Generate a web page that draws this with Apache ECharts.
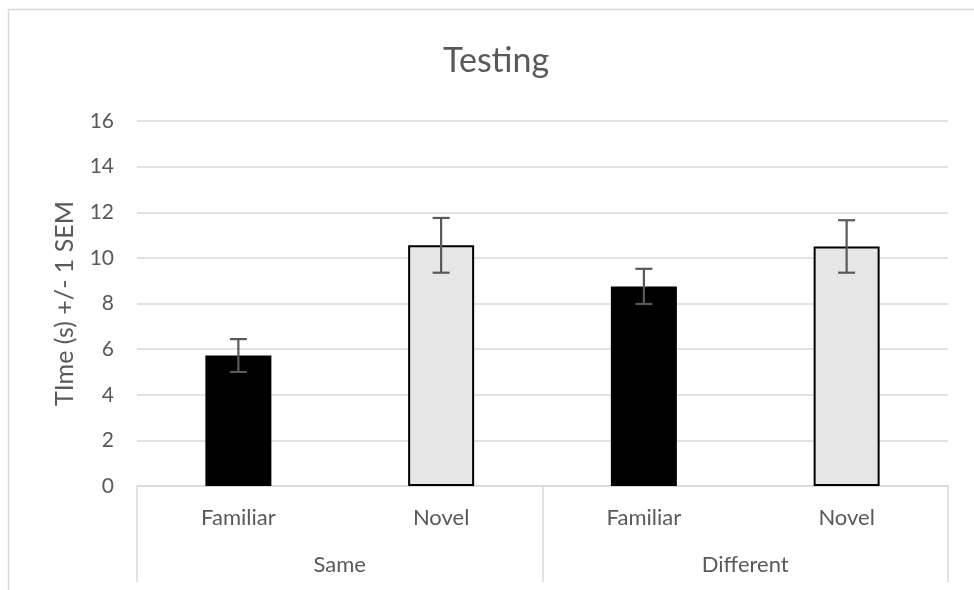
<!DOCTYPE html>
<html>
<head>
<meta charset="utf-8">
<script src="https://cdn.jsdelivr.net/npm/echarts@6/dist/echarts.min.js"></script>
<style>html,body{margin:0;padding:0;background:#fff}#c{width:974px;height:590px}</style>
</head>
<body>
<div id="c"></div>
<script>
const conditions = ['Familiar', 'Novel', 'Familiar', 'Novel'];
const groups = ['Same', 'Different'];
const means = [5.72, 10.55, 8.75, 10.5];
const sems = [0.72, 1.2, 0.77, 1.15];
const yTicks = { min: 0, max: 16, interval: 2 };

const fills = { Familiar: '#000000', Novel: '#e6e6e6' };
const FONT = 'Lato, "Open Sans", sans-serif';
const TXT = '#595959';

const chart = echarts.init(document.getElementById('c'), null, { renderer: 'canvas' });
chart.setOption({
  animation: false,
  textStyle: { fontFamily: FONT },
  title: {
    text: 'Testing', left: 438, top: 39,
    textStyle: { fontFamily: FONT, fontSize: 34, fontWeight: 'normal', color: TXT }
  },
  graphic: [{
    type: 'rect', shape: { x: 8.5, y: 9.5, width: 1000, height: 700 },
    style: { fill: 'none', stroke: '#d9d9d9', lineWidth: 1.5 }, z: -10
  }],
  grid: { left: 137, right: 26, top: 121, bottom: 104 },
  xAxis: [{
    type: 'category', data: conditions, position: 'bottom',
    axisLine: { show: true, lineStyle: { color: '#d9d9d9', width: 1.5 } },
    axisTick: { show: false },
    axisLabel: { color: TXT, fontSize: 22, margin: 21, fontFamily: FONT }
  }, {
    type: 'category', data: groups, position: 'bottom',
    axisLine: { show: false },
    axisTick: { show: true, length: 96, lineStyle: { color: '#d9d9d9', width: 1.5 } },
    axisLabel: { color: TXT, fontSize: 22, margin: 68, fontFamily: FONT }
  }],
  yAxis: {
    type: 'value', min: yTicks.min, max: yTicks.max, interval: yTicks.interval,
    name: 'TIme (s) +/- 1 SEM', nameLocation: 'middle', nameGap: 60,
    nameTextStyle: { color: TXT, fontSize: 25, fontFamily: FONT },
    axisLine: { show: false }, axisTick: { show: false },
    axisLabel: { color: TXT, fontSize: 21, margin: 23, fontFamily: FONT },
    splitLine: { lineStyle: { color: '#d9d9d9', width: 1.5 } }
  },
  series: [{
    type: 'bar', xAxisIndex: 0, barWidth: 66,
    data: means.map((v, i) => ({
      value: v,
      itemStyle: {
        color: fills[conditions[i]],
        borderColor: '#000', borderWidth: conditions[i] === 'Novel' ? 2 : 0
      }
    }))
  }, {
    type: 'custom', xAxisIndex: 0, z: 10,
    data: means.map((v, i) => [i, v - sems[i], v + sems[i]]),
    renderItem: function (params, api) {
      const lo = api.coord([api.value(0), api.value(1)]);
      const hi = api.coord([api.value(0), api.value(2)]);
      const hw = 8.5;
      const st = { stroke: '#595959', lineWidth: 2.2 };
      return {
        type: 'group', children: [
          { type: 'line', shape: { x1: lo[0], y1: lo[1], x2: hi[0], y2: hi[1] }, style: st },
          { type: 'line', shape: { x1: lo[0] - hw, y1: lo[1], x2: lo[0] + hw, y2: lo[1] }, style: st },
          { type: 'line', shape: { x1: hi[0] - hw, y1: hi[1], x2: hi[0] + hw, y2: hi[1] }, style: st }
        ]
      };
    }
  }]
});
</script>
</body>
</html>
